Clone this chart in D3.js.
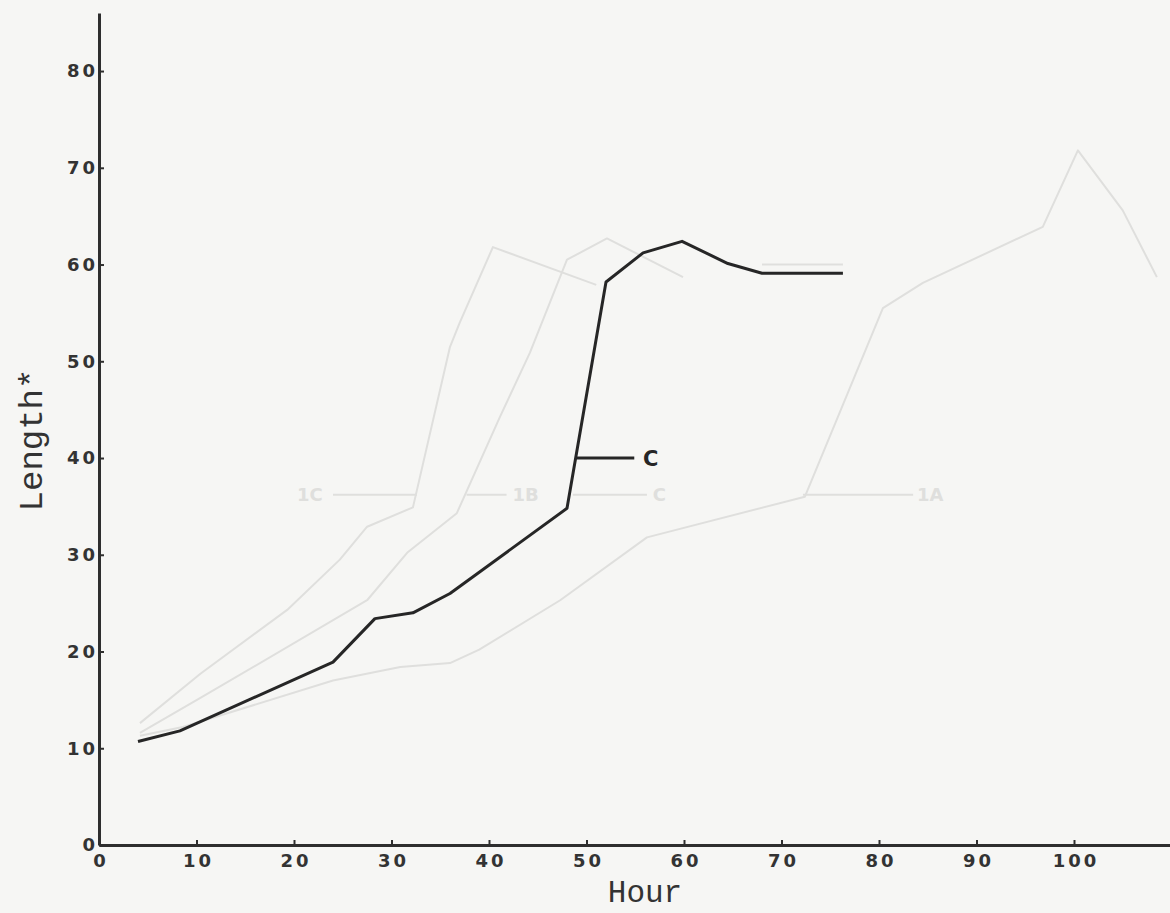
<!DOCTYPE html>
<html>
<head>
<meta charset="utf-8">
<script src="https://cdn.jsdelivr.net/npm/d3@7"></script>
<style>
  html, body { margin: 0; padding: 0; background: #f6f6f4; }
  #chart svg { display: block; }
  .tick text { font-family: "DejaVu Sans", sans-serif; font-weight: bold; font-size: 18px; letter-spacing: 3px; fill: #333; }
</style>
</head>
<body>
<div id="chart"></div>
<script>
// main curve (C)
var hours = [4, 8.3, 24, 28.3, 32.2, 36, 48, 52, 55.8, 59.8, 64.5, 68, 76.3];
var lengths = [10.7, 11.8, 18.9, 23.4, 24, 26, 34.8, 58.2, 61.2, 62.4, 60.1, 59.1, 59.1];

// faint curves showing through the paper
var ghost1CHours = [4.2, 10.4, 19.3, 24.7, 27.5, 32.2, 36, 37, 40.4, 51];
var ghost1CLengths = [12.6, 17.7, 24.3, 29.5, 32.9, 34.9, 51.5, 54, 61.8, 57.9];
var ghost1BHours = [4.2, 10.4, 27.5, 31.6, 36.7, 41.1, 44.2, 48, 52.1, 59.9];
var ghost1BLengths = [11.6, 15.2, 25.3, 30.2, 34.3, 44.2, 50.9, 60.5, 62.7, 58.7];
var ghost1AHours = [4.2, 8.6, 24, 30.9, 36, 39, 47.3, 56.2, 72.4, 80.4, 84.5, 96.8, 100.4, 105, 108.5];
var ghost1ALengths = [11.3, 12.2, 17, 18.4, 18.8, 20.2, 25.3, 31.8, 36, 55.5, 58.1, 63.9, 71.8, 65.6, 58.7];
var ghostCHours = [68, 76.3];
var ghostCLengths = [60, 60];

var xTicks = [0, 10, 20, 30, 40, 50, 60, 70, 80, 90, 100];
var yTicks = [0, 10, 20, 30, 40, 50, 60, 70, 80];

var width = 1170, height = 913;

var svg = d3.select("#chart")
  .append("svg")
    .attr("width", width)
    .attr("height", height);

// scales
var x = d3.scaleLinear().domain([0, 110]).range([99, 1171.5]);
var y = d3.scaleLinear().domain([0, 86]).range([845, 13]);

var line = d3.line()
  .x(function(d) { return x(d[0]); })
  .y(function(d) { return y(d[1]); });

function pairs(a, b) { return a.map(function(v, i) { return [v, b[i]]; }); }

// ghost curves
var ghosts = [
  pairs(ghost1CHours, ghost1CLengths),
  pairs(ghost1BHours, ghost1BLengths),
  pairs(ghost1AHours, ghost1ALengths),
  pairs(ghostCHours, ghostCLengths)
];
svg.append("g")
  .selectAll("path")
  .data(ghosts)
  .enter()
  .append("path")
    .attr("d", line)
    .attr("fill", "none")
    .attr("stroke", "#dfdfdd")
    .attr("stroke-width", 2)
    .attr("stroke-linejoin", "round");

// ghost labels: [leader start, leader end, text start, text]
var ghostLabels = [[24, 32.6, 20.3, "1C"], [37.7, 41.8, 42.4, "1B"], [48.6, 56.2, 56.8, "C"], [72.2, 83.5, 83.9, "1A"]];
var gl = svg.append("g");
gl.selectAll("line")
  .data(ghostLabels)
  .enter()
  .append("line")
    .attr("x1", function(d) { return x(d[0]); })
    .attr("x2", function(d) { return x(d[1]); })
    .attr("y1", y(36.2))
    .attr("y2", y(36.2))
    .attr("stroke", "#dfdfdd")
    .attr("stroke-width", 2);
gl.selectAll("text")
  .data(ghostLabels)
  .enter()
  .append("text")
    .attr("x", function(d) { return x(d[2]); })
    .attr("y", y(36.2))
    .attr("dy", "0.36em")
    .style("font-family", "DejaVu Sans, sans-serif")
    .style("font-weight", "bold")
    .style("font-size", "18px")
    .style("fill", "#dfdfdd")
    .text(function(d) { return d[3]; });

// axes
var xAxis = svg.append("g")
  .attr("transform", "translate(0," + y(0) + ")")
  .call(d3.axisBottom(x).tickValues(xTicks).tickSizeInner(-5).tickSizeOuter(0).tickPadding(9));
var yAxis = svg.append("g")
  .attr("transform", "translate(" + x(0) + ",0)")
  .call(d3.axisLeft(y).tickValues(yTicks).tickSizeInner(-5).tickSizeOuter(0).tickPadding(4));

[xAxis, yAxis].forEach(function(a) {
  a.select(".domain").attr("stroke", "#2e2e2e").attr("stroke-width", 3);
  a.selectAll(".tick line").attr("stroke", "#2e2e2e").attr("stroke-width", 2);
});
yAxis.selectAll(".tick text").attr("dx", "3px");
xAxis.selectAll(".tick text").attr("dx", "1.5px");

// main line
svg.append("path")
  .datum(pairs(hours, lengths))
  .attr("d", line)
  .attr("fill", "none")
  .attr("stroke", "#262626")
  .attr("stroke-width", 3)
  .attr("stroke-linejoin", "round");

// C label
svg.append("line")
  .attr("x1", x(49)).attr("x2", x(54.9))
  .attr("y1", y(40)).attr("y2", y(40))
  .attr("stroke", "#262626")
  .attr("stroke-width", 3);
svg.append("text")
  .attr("x", x(55.8))
  .attr("y", y(40))
  .attr("dy", "0.36em")
  .style("font-family", "DejaVu Sans, sans-serif")
  .style("font-weight", "bold")
  .style("font-size", "21px")
  .style("fill", "#262626")
  .text("C");

// axis titles
svg.append("text")
  .attr("x", 645)
  .attr("y", 902)
  .attr("text-anchor", "middle")
  .style("font-family", "Liberation Mono, monospace")
  .style("font-size", "31px")
  .style("fill", "#333")
  .text("Hour");

svg.append("text")
  .attr("transform", "translate(42,440) rotate(-90)")
  .attr("text-anchor", "middle")
  .style("font-family", "Liberation Mono, monospace")
  .style("font-size", "34px")
  .style("fill", "#333")
  .text("Length*");
</script>
</body>
</html>
